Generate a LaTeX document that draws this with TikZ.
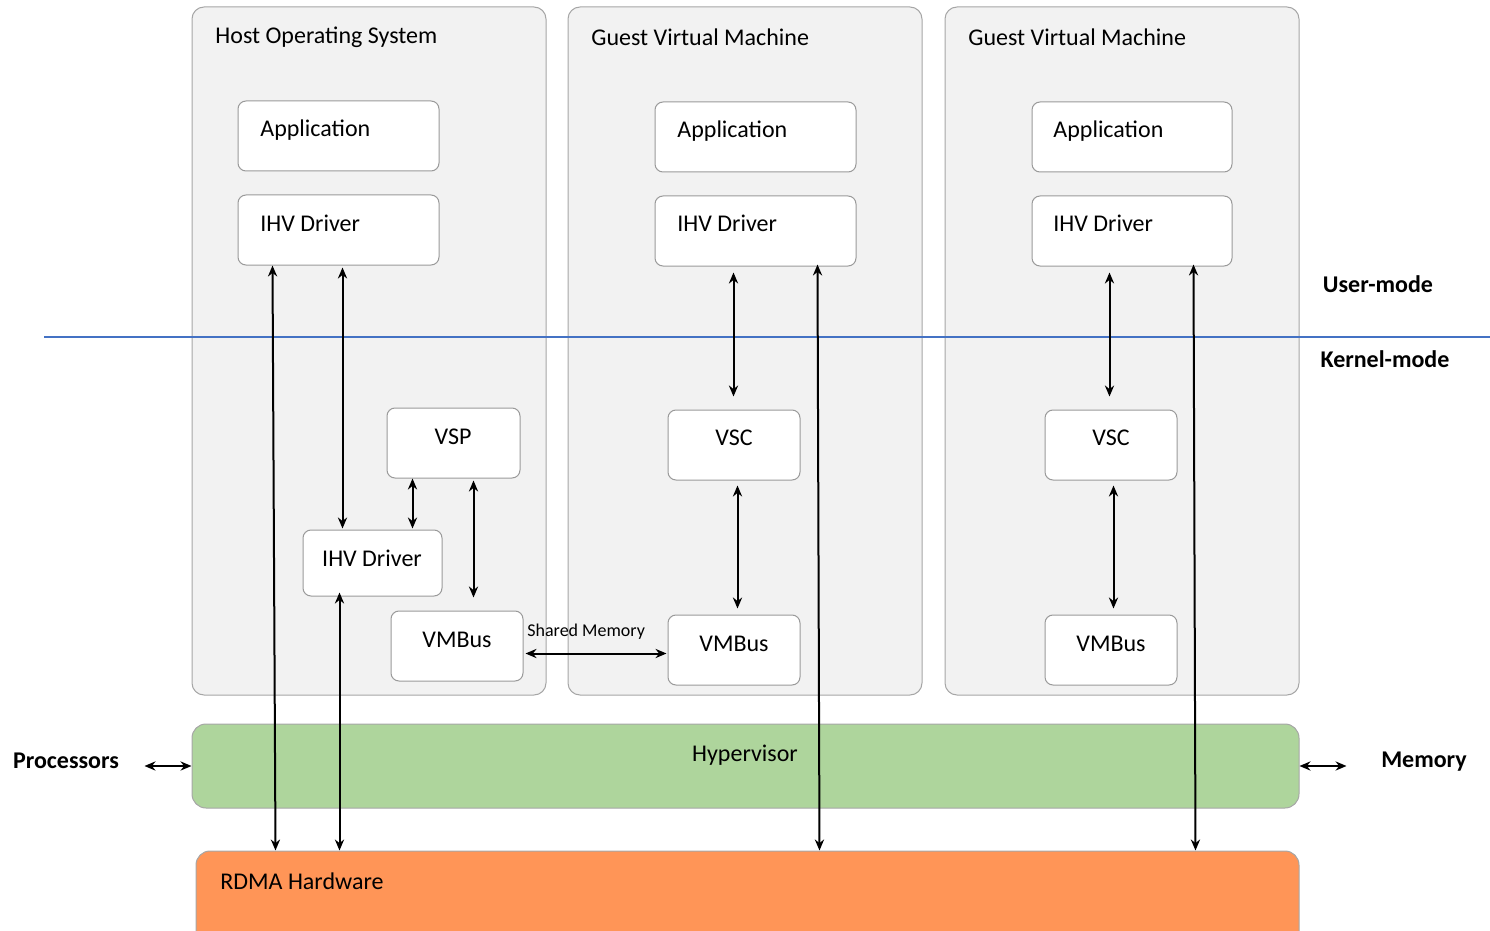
\documentclass[tikz,border=0pt]{standalone}
\usepackage{fontspec}
\setmainfont{Carlito}
\usetikzlibrary{arrows.meta,calc,fit}
\definecolor{contfill}{HTML}{F2F2F2}
\definecolor{contline}{HTML}{A6A6A6}
\definecolor{boxline}{HTML}{9A9A9A}
\definecolor{hypfill}{HTML}{AED59C}
\definecolor{rdmafill}{HTML}{FF9557}
\definecolor{modeline}{HTML}{4472C4}
\tikzset{
  cont/.style={draw=contline, fill=contfill, rounded corners=6pt, line width=0.5pt, inner sep=0pt},
  box/.style={draw=boxline, fill=white, rounded corners=4pt, line width=0.5pt, inner sep=0pt},
  bar/.style={draw=contline, rounded corners=7pt, line width=0.5pt, inner sep=0pt},
  txt/.style={font=\fontsize{12}{14}\selectfont, inner sep=0pt},
  ltxt/.style={txt, anchor=west},
  btxt/.style={font=\fontsize{12}{14}\selectfont\bfseries, inner sep=0pt},
  arr/.style={{Stealth[length=5.5pt,width=4.6pt,inset=1.8pt]}-{Stealth[length=5.5pt,width=4.6pt,inset=1.8pt]}, line width=1pt},
}
\begin{document}
\begin{tikzpicture}[x=0.5pt,y=-0.5pt]
\useasboundingbox (0,0) rectangle (1490,931);
% containers
\node[cont, fit={(192,7) (546,695)}] (host) {};
\node[cont, fit={(568,7) (922,695)}] (g1) {};
\node[cont, fit={(945,7) (1299,695)}] (g2) {};
\node[ltxt] (hostt) at (215,37) {Host Operating System};
\node[ltxt] (g1t) at (591,37) {Guest Virtual Machine};
\node[ltxt] (g2t) at (968,37) {Guest Virtual Machine};
% mode line
\coordinate (ml1) at (44,337);
\coordinate (ml2) at (1490,337);
\draw[modeline, line width=0.75pt] (ml1) -- (ml2);
\node[btxt] (um) at (1378,284) {User-mode};
\node[btxt] (km) at (1385,359) {Kernel-mode};
% host boxes
\node[box, fit={(238,101) (439,171)}] (happ) {};
\node[ltxt] at (260,130) {Application};
\node[box, fit={(238,195) (439,265)}] (hihv) {};
\node[ltxt] at (260,223) {IHV Driver};
\node[box, fit={(387,408) (520,478)}] (vsp) {};
\node[txt] at (453,437) {VSP};
\node[box, fit={(303,530) (442,596)}] (hk) {};
\node[txt] at (372,558) {IHV Driver};
\node[box, fit={(391,611) (523,681)}] (hvmb) {};
\node[txt] at (457,640) {VMBus};
% guest 1
\node[box, fit={(655,102) (856,172)}] (g1app) {};
\node[ltxt] at (677,131) {Application};
\node[box, fit={(655,196) (856,266)}] (g1ihv) {};
\node[ltxt] at (677,223) {IHV Driver};
\node[box, fit={(668,410) (800,480)}] (g1vsc) {};
\node[txt] at (734,438) {VSC};
\node[box, fit={(668,615) (800,685)}] (g1vmb) {};
\node[txt] at (734,644) {VMBus};
% guest 2
\node[box, fit={(1032,102) (1232,172)}] (g2app) {};
\node[ltxt] at (1053,131) {Application};
\node[box, fit={(1032,196) (1232,266)}] (g2ihv) {};
\node[ltxt] at (1053,223) {IHV Driver};
\node[box, fit={(1045,410) (1177,480)}] (g2vsc) {};
\node[txt] at (1111,438) {VSC};
\node[box, fit={(1045,615) (1177,685)}] (g2vmb) {};
\node[txt] at (1111,644) {VMBus};
% bars
\node[bar, fill=hypfill, fit={(192,724) (1299,808)}] (hyp) {};
\node[txt] at (745,755) {Hypervisor};
\node[bar, fill=rdmafill, fit={(196,851) (1299,950)}] (rdma) {};
\node[ltxt] at (220,881) {RDMA Hardware};
\node[btxt] (proc) at (66,761) {Processors};
\node[btxt] (mem) at (1424,762) {Memory};
% arrows host
\draw[arr] ($(hihv.south west)+(35,0)$) -- ($(rdma.north west)+(80,0)$);
\draw[arr] ($(hihv.south west)+(105,2)$) -- ($(hk.north west)+(40,-1)$);
\draw[arr] ($(vsp.south west)+(26,0)$) -- ($(hk.north west)+(110,-1)$);
\draw[arr] ($(vsp.south west)+(87,2)$) -- ($(hvmb.north west)+(83,-13)$);
\draw[arr] ($(hk.south west)+(37,-4)$) -- ($(rdma.north west)+(144,0)$);
\draw[arr] ($(hvmb.south east)+(2,-28)$) -- ($(g1vmb.south west)+(-1,-32)$);
\node[font=\fontsize{9}{11}\selectfont, inner sep=0pt, anchor=west] (shm) at (527,632) {Shared Memory};
% arrows guest 1
\draw[arr] ($(g1ihv.south west)+(79,6)$) -- ($(g1vsc.north west)+(66,-13)$);
\draw[arr] ($(g1vsc.south west)+(70,5)$) -- ($(g1vmb.north west)+(70,-6)$);
\draw[arr] ($(g1ihv.south west)+(163,-2)$) -- ($(rdma.north west)+(624,0)$);
% arrows guest 2
\draw[arr] ($(g2ihv.south west)+(78,6)$) -- ($(g2vsc.north west)+(65,-13)$);
\draw[arr] ($(g2vsc.south west)+(69,5)$) -- ($(g2vmb.north west)+(69,-6)$);
\draw[arr] ($(g2ihv.south west)+(162,-2)$) -- ($(rdma.north west)+(1000,0)$);
% processors / memory
\draw[arr] ($(hyp.west)+(-47,0)$) -- (hyp.west);
\draw[arr] (hyp.east) -- ($(hyp.east)+(47,0)$);
\end{tikzpicture}
\end{document}
